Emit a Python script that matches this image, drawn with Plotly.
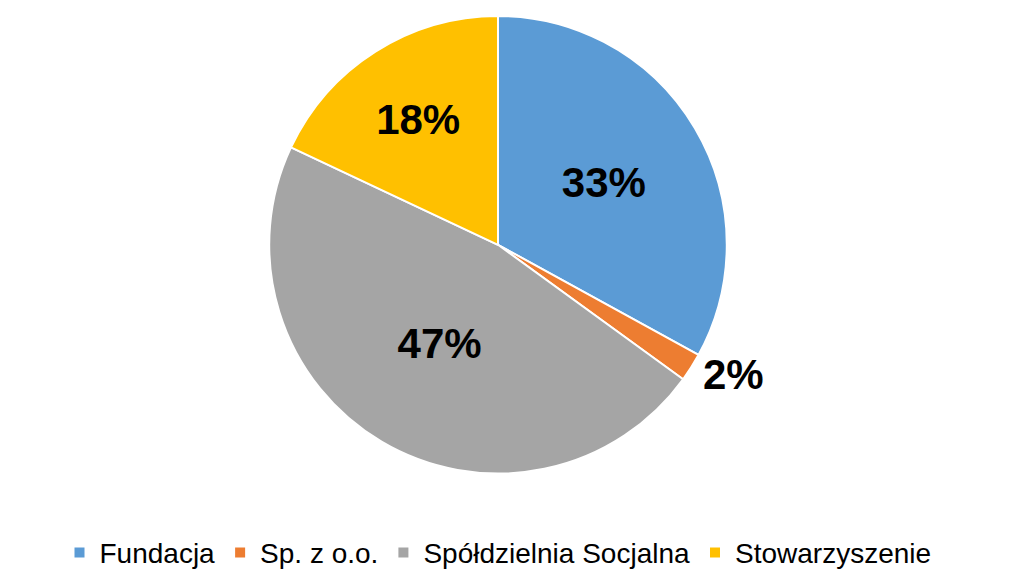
import plotly.graph_objects as go

categories = ["Fundacja", "Sp. z o.o.", "Spółdzielnia Socjalna", "Stowarzyszenie"]
values = [33, 2, 47, 18]
colors = ["#5B9BD5", "#ED7D31", "#A5A5A5", "#FFC000"]
text_positions = ["inside", "outside", "inside", "inside"]

fig = go.Figure(
    go.Pie(
        labels=categories,
        values=values,
        sort=False,
        direction="clockwise",
        rotation=0,
        marker=dict(colors=colors, line=dict(color="white", width=2)),
        textinfo="percent",
        texttemplate="<b>%{percent:.0%}</b>",
        textposition=text_positions,
        insidetextorientation="horizontal",
        textfont=dict(family="Liberation Sans, Arial, sans-serif", size=42, color="black"),
        hoverinfo="label+percent",
        domain=dict(x=[0.1, 0.9], y=[0.07, 1.0]),
    )
)

fig.update_layout(
    width=1017,
    height=570,
    margin=dict(l=0, r=0, t=8, b=60),
    paper_bgcolor="white",
    plot_bgcolor="white",
    showlegend=True,
    legend=dict(
        orientation="h",
        x=0.5,
        xanchor="center",
        y=-0.04,
        yanchor="top",
        font=dict(family="Liberation Sans, Arial, sans-serif", size=28, color="black"),
        itemsizing="constant",
        traceorder="normal",
    ),
)

fig.write_html("out.html")
